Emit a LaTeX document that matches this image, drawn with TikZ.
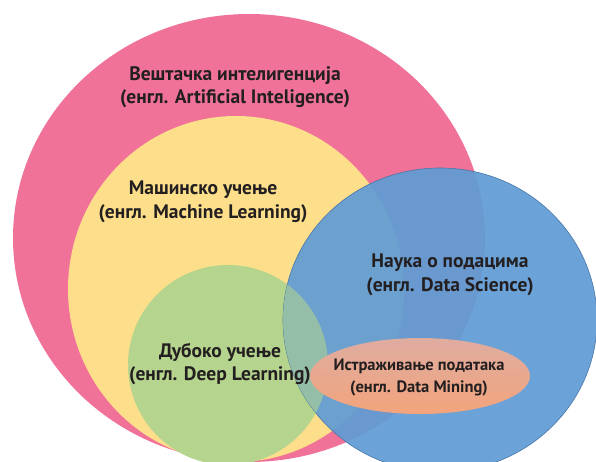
\documentclass[tikz,border=0pt]{standalone}
\usepackage{fontspec}
\setmainfont{PT Sans}
\definecolor{aipink}{RGB}{240,114,153}
\definecolor{mlyellow}{RGB}{253,223,139}
\definecolor{dlgreen}{RGB}{181,212,142}
\definecolor{dsblue}{RGB}{96,156,213}
\definecolor{dsedge}{RGB}{72,118,168}
\definecolor{dmtop}{RGB}{222,172,160}
\definecolor{dmbottom}{RGB}{243,164,124}
\definecolor{txt}{RGB}{35,31,32}
\tikzstyle{lbl}=[font=\bfseries\fontsize{19.5}{23.5}\selectfont,align=center,text=txt,inner sep=0pt]
\tikzstyle{lblsmall}=[font=\bfseries\fontsize{16.5}{22}\selectfont,align=center,text=txt,inner sep=0pt]

\begin{document}
\begin{tikzpicture}[x=1pt,y=-1pt]
    \useasboundingbox (0,0) rectangle (596,461);
    \fill[white] (0,0) rectangle (596,461);
    \fill[aipink] (249,238) ellipse [x radius=236pt, y radius=224pt];
    \fill[mlyellow] (236,289) ellipse [x radius=168pt, y radius=173pt];
    \fill[dlgreen] (228,365) circle [radius=100pt];
    \fill[dsblue,fill opacity=.93,draw=dsedge,line width=.6pt] (440,320) ellipse [x radius=157pt, y radius=152pt];
    \begin{scope}
      \clip (440,320) ellipse [x radius=157pt, y radius=152pt];
      \fill[dlgreen,opacity=.6] (228,365) circle [radius=100pt];
    \end{scope}
    \shade[top color=dmtop,bottom color=dmbottom] (420,376) ellipse [x radius=110pt, y radius=38pt];
    \node[lbl] (ai) at (235,87) {Вештачка интелигенција\\(енгл. Artificial Inteligence)};
    \node[lbl] (ml) at (203,202) {Машинско учење\\(енгл. Machine Learning)};
    \node[lbl] (ds) at (450,275) {Наука о подацима\\(енгл. Data Science)};
    \node[lbl] (dl) at (220,364) {Дубоко учење\\(енгл. Deep Learning)};
    \node[lblsmall] (dm) at (419,378) {Истраживање података\\(енгл. Data Mining)};
\end{tikzpicture}
\end{document}
